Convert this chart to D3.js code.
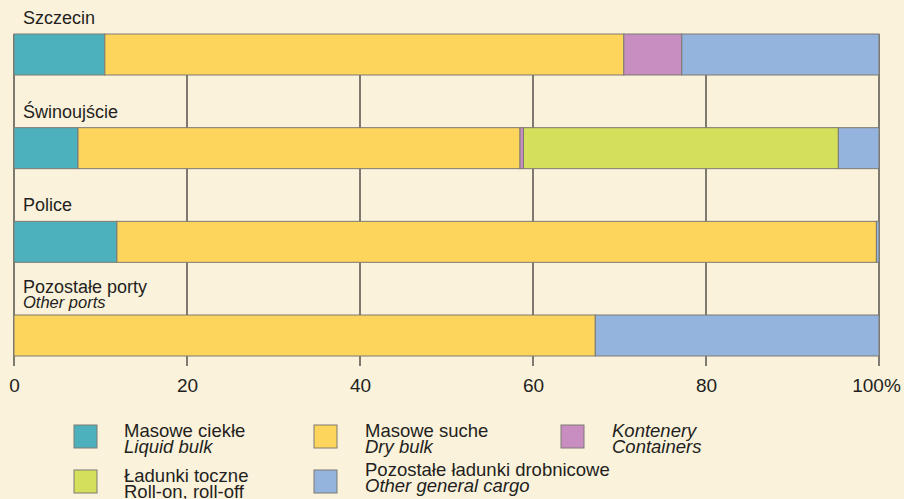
<!DOCTYPE html>
<meta charset="utf-8">
<title>Port cargo structure</title>
<style>
body { margin: 0; background: #fbf2dc; }
svg { display: block; font-family: "Liberation Sans", Arial, sans-serif; }
.bar rect { stroke: #7d7a72; stroke-width: 1; }
.grid line { stroke: #55524c; stroke-width: 1.5; }
.label { fill: #231f20; font-size: 18px; }
.label.en { font-style: italic; font-size: 16.5px; }
.tick text { fill: #231f20; font-size: 19px; }
.legend text { fill: #231f20; font-size: 18.5px; }
.legend .it { font-style: italic; }
</style>
<body>
<script src="https://d3js.org/d3.v7.min.js"></script>
<script>

// data (shares in %)
var ports = ["Szczecin", "Świnoujście", "Police", "Pozostałe porty"];
var portsEn = ["", "", "", "Other ports"];
var keys = ["liquid", "dry", "containers", "roro", "other"];
var liquid     = [10.5, 7.4, 11.9, 0];
var dry        = [60.0, 51.1, 87.8, 67.2];
var containers = [6.7, 0.4, 0, 0];
var roro       = [0, 36.4, 0, 0];
var other      = [22.8, 4.7, 0.3, 32.8];
var ticks = [0, 20, 40, 60, 80, 100];

var colors = {
  liquid: "#4cb1bd", dry: "#fdd55d", containers: "#c98ec1",
  roro: "#d4df5b", other: "#94b3dd"
};

// legend entries: [key, polish, english, polish italic?]
var legendItems = [
  ["liquid", "Masowe ciekłe", "Liquid bulk", false],
  ["dry", "Masowe suche", "Dry bulk", false],
  ["containers", "Kontenery", "Containers", true],
  ["roro", "Ładunki toczne", "Roll-on, roll-off", false],
  ["other", "Pozostałe ładunki drobnicowe", "Other general cargo", false]
];

var width = 904, height = 499;

var svg = d3.select("body").append("svg")
    .attr("width", width)
    .attr("height", height);

svg.append("rect")
    .attr("width", width).attr("height", height)
    .attr("fill", "#fbf2dc");

var table = ports.map(function(p, i) {
  return { port: p, liquid: liquid[i], dry: dry[i], containers: containers[i],
           roro: roro[i], other: other[i] };
});

var x = d3.scaleLinear().domain([0, 100]).range([14, 879]);
var y = d3.scaleBand().domain(ports).range([34, 356]).paddingInner(0.5624).paddingOuter(0);

var axisBottom = 366;

// grid lines (drawn below the bars)
svg.append("g").attr("class", "grid")
  .selectAll("line")
  .data(ticks)
  .enter().append("line")
    .attr("x1", function(d) { return x(d); })
    .attr("x2", function(d) { return x(d); })
    .attr("y1", y(ports[0]))
    .attr("y2", axisBottom);

// stacked bars
var series = d3.stack().keys(keys)(table);

svg.append("g").selectAll("g")
    .data(series)
  .enter().append("g")
    .attr("class", "bar")
    .attr("fill", function(d) { return colors[d.key]; })
  .selectAll("rect")
    .data(function(d) { return d.filter(function(v) { return v[1] - v[0] > 0; }); })
  .enter().append("rect")
    .attr("x", function(d) { return x(d[0]); })
    .attr("y", function(d) { return y(d.data.port); })
    .attr("width", function(d) { return x(d[1]) - x(d[0]); })
    .attr("height", y.bandwidth());

// port labels above the bars
ports.forEach(function(p, i) {
  var top = y(p);
  var hasEn = portsEn[i] !== "";
  svg.append("text")
      .attr("class", "label")
      .attr("x", 23)
      .attr("y", top - (hasEn ? 22 : 10))
      .text(p);
  if (hasEn) {
    svg.append("text")
        .attr("class", "label en")
        .attr("x", 23)
        .attr("y", top - 7)
        .text(portsEn[i]);
  }
});

// x axis labels
var axis = d3.axisBottom(x)
    .tickValues(ticks)
    .tickSize(0)
    .tickPadding(0)
    .tickFormat(function(d) { return d === 100 ? "100%" : d; });

var ax = svg.append("g")
    .attr("transform", "translate(0," + (axisBottom + 26) + ")")
    .call(axis);
ax.select(".domain").remove();
ax.selectAll(".tick text")
    .attr("font-family", null)
    .attr("font-size", null)
    .attr("dy", 0)
    .attr("dx", function(d) { return d === 100 ? -3 : 0; });

// legend
var colX = [74, 314, 561];
var rowY = [425, 470];
var legend = svg.append("g").attr("class", "legend");
legendItems.forEach(function(item, i) {
  var col = i < 3 ? i : i - 3;
  var row = i < 3 ? 0 : 1;
  var g = legend.append("g")
      .attr("transform", "translate(" + colX[col] + "," + rowY[row] + ")");
  g.append("rect")
      .attr("width", 23).attr("height", 23)
      .attr("fill", colors[item[0]])
      .attr("stroke", "#7d7a72");
  var tx = col === 0 ? 50 : 51;
  var ty = (row === 1 && col === 1) ? 6 : 12;
  g.append("text")
      .attr("class", item[3] ? "it" : null)
      .attr("x", tx).attr("y", ty)
      .text(item[1]);
  g.append("text")
      .attr("class", item[0] === "roro" ? null : "it")
      .attr("x", tx).attr("y", ty + 16)
      .text(item[2]);
});

</script>
</body>
